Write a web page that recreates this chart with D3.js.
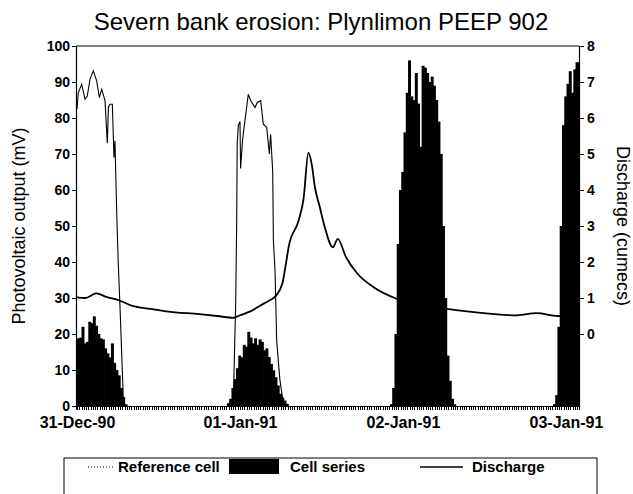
<!DOCTYPE html>
<html>
<head>
<meta charset="utf-8">
<script src="https://cdn.jsdelivr.net/npm/d3@7"></script>
<style>
  body { margin: 0; background: #fff; }
  svg { display: block; font-family: "Liberation Sans", Arial, sans-serif; }
</style>
</head>
<body>
<div id="chart"></div>
<script>
// day 0 = 31-Dec-90
var dayTicks = [0, 1, 2, 3];
var dayLabels = ["31-Dec-90", "01-Jan-91", "02-Jan-91", "03-Jan-91"];
var mvTicks = [0, 10, 20, 30, 40, 50, 60, 70, 80, 90, 100];
var qTicks = [0, 1, 2, 3, 4, 5, 6, 7, 8];

// reference cell (mV), two daylight runs [day, mV]
var refCellA = [[0, 82.5], [0.008, 87], [0.029, 89.4], [0.049, 85.2], [0.063, 86.1], [0.080, 90.8],
  [0.100, 93.1], [0.121, 90.3], [0.137, 85.7], [0.152, 88], [0.172, 84.8], [0.186, 73], [0.193, 83],
  [0.202, 83.8], [0.217, 83.8], [0.227, 69], [0.233, 73.7], [0.244, 53.4], [0.253, 40], [0.264, 27.5],
  [0.284, 2.6], [0.291, 0]];
var refCellB = [[0.939, 0], [0.959, 1], [0.974, 29], [0.980, 52], [0.983, 73], [0.990, 78], [1.000, 79],
  [1.004, 66], [1.016, 74], [1.051, 86.6], [1.066, 84.8], [1.092, 82.9], [1.106, 84.3], [1.127, 84.8],
  [1.143, 78.3], [1.164, 77.4], [1.180, 70], [1.188, 75.5], [1.201, 65], [1.205, 46], [1.215, 37.7],
  [1.225, 18.3], [1.245, 7.2], [1.266, 0.8], [1.276, 0]];

// cell series (mV), 20 minute bars, one run per day
var cellStep = 1 / 72;
var cellStart = [0, 0.92, 1.92, 2.92];
var cellRuns = [
  [18.8, 19, 22, 17.4, 17.8, 23.4, 23, 24.9, 22.3, 20, 18.8, 18.5, 16, 14.6, 13.5, 17.4, 12, 10, 8.5, 5, 2.5, 0.5],
  [0.8, 2, 5, 7.5, 10.5, 14, 13.5, 17, 16.5, 20.6, 19, 17.4, 18.8, 17, 18.5, 17.8, 15.5, 16, 13.6, 11.7, 9.9, 8, 5.7, 3.4, 2.3, 1.5, 0.6],
  [0.5, 5, 20, 45, 60, 65, 76, 87, 96, 86, 85, 92.5, 84, 72, 94.5, 94, 92.5, 90, 91.5, 89, 85, 79, 70, 50, 30, 14, 7, 2, 0.5],
  [0.5, 3, 22, 50, 78, 86, 89.5, 93, 87, 93.5, 95.5, 95.5]
];

// discharge (cumecs)
var dischargeDay = [0, 0.05, 0.12, 0.18, 0.25, 0.34, 0.45, 0.55, 0.75, 0.86, 0.96, 1.00, 1.06, 1.12, 1.18,
  1.22, 1.26, 1.28, 1.30, 1.36, 1.39, 1.42, 1.44, 1.46, 1.49, 1.52, 1.57, 1.60, 1.65, 1.72, 1.82, 1.96,
  2.25, 2.45, 2.70, 2.82, 2.95, 3.08];
var dischargeQ = [1.02, 1.0, 1.13, 1.03, 0.95, 0.78, 0.70, 0.63, 0.55, 0.50, 0.45, 0.52, 0.62, 0.78, 0.93,
  1.06, 1.40, 1.90, 2.45, 3.15, 3.75, 5.04, 4.72, 4.07, 3.52, 2.97, 2.41, 2.64, 2.14, 1.68, 1.30, 0.98,
  0.71, 0.60, 0.52, 0.58, 0.50, 0.50];

var W = 633, H = 494;
var margin = {top: 46, right: 54, bottom: 88, left: 76},
    width = W - margin.left - margin.right,
    height = H - margin.top - margin.bottom;

var svg = d3.select("#chart").append("svg")
    .attr("width", W)
    .attr("height", H);

svg.append("text")
    .attr("x", 321).attr("y", 30)
    .attr("text-anchor", "middle")
    .attr("font-size", "24px")
    .text("Severn bank erosion: Plynlimon PEEP 902");

var g = svg.append("g")
    .attr("transform", "translate(" + margin.left + "," + margin.top + ")");

var x = d3.scaleLinear().domain([-0.006, 3.08]).range([0, width]);
var y = d3.scaleLinear().domain([0, 100]).range([height, 0]);
var y2 = d3.scaleLinear().domain([-2, 8]).range([height, 0]);

g.append("clipPath").attr("id", "plotclip")
  .append("rect").attr("width", width).attr("height", height);

var plot = g.append("g").attr("clip-path", "url(#plotclip)");

// discharge
var qLine = d3.line()
    .x(function(d, i) { return x(dischargeDay[i]); })
    .y(function(d) { return y2(d); })
    .curve(d3.curveMonotoneX);
plot.append("path")
    .datum(dischargeQ)
    .attr("d", qLine)
    .attr("fill", "none")
    .attr("stroke", "#000")
    .attr("stroke-width", 1.8);

// reference cell
var refLine = d3.line()
    .x(function(d) { return x(d[0]); })
    .y(function(d) { return y(d[1]); });
[refCellA, refCellB].forEach(function(run) {
  plot.append("path")
      .datum(run)
      .attr("d", refLine)
      .attr("fill", "none")
      .attr("stroke", "#000")
      .attr("stroke-width", 1.1);
});

// cell series bars (slight overlap so the runs read as solid)
var barW = x(cellStep) - x(0);
cellRuns.forEach(function(run, k) {
  plot.selectAll(null)
    .data(run)
    .enter()
    .append("rect")
      .attr("x", function(d, i) { return x(cellStart[k] + i * cellStep); })
      .attr("y", function(d) { return y(d); })
      .attr("width", barW + 0.7)
      .attr("height", function(d) { return height - y(d); })
      .attr("fill", "#000");
});

// frame
g.append("line").attr("x1", 0).attr("x2", width).attr("y1", 0).attr("y2", 0)
    .attr("stroke", "#000").attr("stroke-width", 1.2);

// axes
var minorTicks = d3.range(0, 3.08, cellStep);
g.append("g")
    .attr("transform", "translate(0," + height + ")")
    .call(d3.axisBottom(x).tickValues(minorTicks).tickSize(4).tickFormat(""))
    .call(function(a) {
      a.selectAll(".tick line").attr("stroke-width", 1).attr("stroke", "#000")
        .attr("shape-rendering", "crispEdges");
    });

g.append("g")
    .attr("transform", "translate(0," + height + ")")
    .call(d3.axisBottom(x).tickValues(dayTicks).tickSize(0).tickPadding(11)
      .tickFormat(function(d, i) { return dayLabels[i]; }))
    .call(function(a) { a.select(".domain").remove(); })
    .selectAll("text")
      .attr("font-size", "16px")
      .attr("font-weight", "bold")
      .attr("font-family", "Liberation Sans, Arial, sans-serif");

g.append("g")
    .call(d3.axisLeft(y).tickValues(mvTicks).tickSize(4).tickPadding(2).tickSizeOuter(0))
    .selectAll("text")
      .attr("font-size", "14px")
      .attr("font-weight", "bold")
      .attr("font-family", "Liberation Sans, Arial, sans-serif");

g.append("g")
    .attr("transform", "translate(" + width + ",0)")
    .call(d3.axisRight(y2).tickValues(qTicks).tickSize(5).tickPadding(3).tickSizeOuter(0))
    .selectAll("text")
      .attr("font-size", "14px")
      .attr("font-weight", "bold")
      .attr("font-family", "Liberation Sans, Arial, sans-serif");

g.selectAll(".domain").attr("stroke-width", 1.2);

// axis titles
svg.append("text")
    .attr("transform", "translate(25,226) rotate(-90)")
    .attr("text-anchor", "middle")
    .attr("font-size", "18px")
    .text("Photovoltaic output (mV)");

svg.append("text")
    .attr("transform", "translate(617,226) rotate(90)")
    .attr("text-anchor", "middle")
    .attr("font-size", "18px")
    .text("Discharge (cumecs)");

// legend
var leg = svg.append("g");
leg.append("rect")
    .attr("x", 64).attr("y", 458).attr("width", 533).attr("height", 60)
    .attr("fill", "none").attr("stroke", "#000").attr("stroke-width", 1);
leg.append("line").attr("x1", 88).attr("x2", 113).attr("y1", 467).attr("y2", 467)
    .attr("stroke", "#000").attr("stroke-dasharray", "1,2");
leg.append("text").attr("x", 118).attr("y", 472).attr("font-size", "15px").attr("font-weight", "bold")
    .text("Reference cell");
leg.append("rect").attr("x", 229).attr("y", 459).attr("width", 50).attr("height", 15).attr("fill", "#000");
leg.append("text").attr("x", 290).attr("y", 472).attr("font-size", "15px").attr("font-weight", "bold")
    .text("Cell series");
leg.append("line").attr("x1", 420).attr("x2", 463).attr("y1", 467).attr("y2", 467)
    .attr("stroke", "#000").attr("stroke-width", 1.5);
leg.append("text").attr("x", 472).attr("y", 472).attr("font-size", "15px").attr("font-weight", "bold")
    .text("Discharge");
</script>
</body>
</html>
